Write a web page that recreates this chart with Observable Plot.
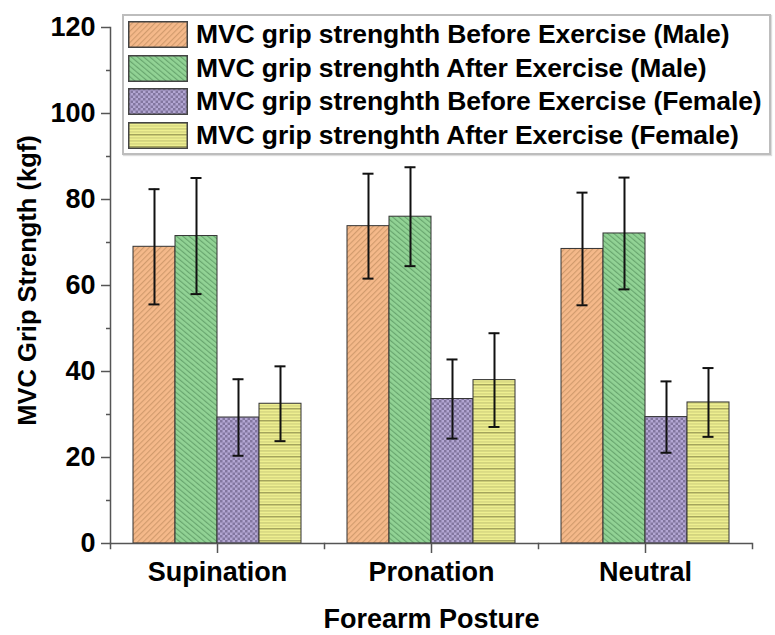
<!DOCTYPE html>
<html>
<head>
<meta charset="utf-8">
<script src="https://cdn.jsdelivr.net/npm/d3@7"></script>
<script src="https://cdn.jsdelivr.net/npm/@observablehq/plot@0.6"></script>
<style>
  html, body { margin: 0; padding: 0; background: #fff; }
  body { font-family: "Liberation Sans", Arial, sans-serif; }
  #wrap { position: relative; width: 775px; height: 635px; }
  #legend {
    position: absolute; left: 122px; top: 14px; width: 645px; height: 135px;
    padding-top: 2px; box-sizing: content-box;
    border: 2px solid #bdbdbd; background: #fff;
    box-shadow: 1px 1px 1px #ddd;
  }
  .row { display: flex; align-items: center; height: 33.5px; }
  .row svg { margin-left: 4px; margin-right: 8px; flex: none; }
  .row span { font-weight: bold; font-size: 26.5px; color: #000; white-space: nowrap; letter-spacing: -0.1px; }
</style>
</head>
<body>
<svg width="0" height="0" style="position:absolute">
  <defs>
    <pattern id="p0" patternUnits="userSpaceOnUse" width="4" height="4" patternTransform="rotate(45)">
      <rect width="4" height="4" fill="#f5b98a"/>
      <line x1="0.6" y1="0" x2="0.6" y2="4" stroke="#d09a6c" stroke-width="1.1"/>
    </pattern>
    <pattern id="p1" patternUnits="userSpaceOnUse" width="4" height="4" patternTransform="rotate(-50)">
      <rect width="4" height="4" fill="#92d395"/>
      <line x1="0.6" y1="0" x2="0.6" y2="4" stroke="#66a36c" stroke-width="1.1"/>
    </pattern>
    <pattern id="p2" patternUnits="userSpaceOnUse" width="5" height="5">
      <rect width="5" height="5" fill="#b3a6d3"/>
      <rect x="0" y="0" width="2.5" height="2.5" fill="#82769f"/>
      <rect x="2.5" y="2.5" width="2.5" height="2.5" fill="#82769f"/>
    </pattern>
    <pattern id="p3" patternUnits="userSpaceOnUse" width="6" height="12">
      <rect width="6" height="12" fill="#eeef90"/>
      <rect x="0" y="0" width="6" height="1.5" fill="#a4a45c"/>
      <rect x="0" y="3.5" width="6" height="0.9" fill="#c8c878"/>
      <rect x="0" y="6.5" width="6" height="0.9" fill="#b9b96c"/>
      <rect x="0" y="9.5" width="6" height="0.9" fill="#c8c878"/>
    </pattern>
  </defs>
</svg>
<div id="wrap">
  <div id="chart"></div>
  <div id="legend"></div>
</div>
<script>
// ---- data ----
const postures = ["Supination", "Pronation", "Neutral"];
const series = [
  "MVC grip strenghth Before Exercise (Male)",
  "MVC grip strenghth After Exercise (Male)",
  "MVC grip strenghth Before Exercise (Female)",
  "MVC grip strenghth After Exercise (Female)"
];
const beforeMale = [69.0, 73.8, 68.5];
const beforeMaleSD = [13.4, 12.2, 13.1];
const afterMale = [71.5, 76.0, 72.1];
const afterMaleSD = [13.5, 11.5, 13.0];
const beforeFemale = [29.3, 33.6, 29.4];
const beforeFemaleSD = [8.9, 9.2, 8.3];
const afterFemale = [32.5, 38.0, 32.8];
const afterFemaleSD = [8.7, 10.9, 8.0];
const yTicks = [0, 20, 40, 60, 80, 100, 120];
const yMinorTicks = [10, 30, 50, 70, 90, 110];

const means = [beforeMale, afterMale, beforeFemale, afterFemale];
const sds = [beforeMaleSD, afterMaleSD, beforeFemaleSD, afterFemaleSD];
const patterns = ["url(#p0)", "url(#p1)", "url(#p2)", "url(#p3)"];

const rows = [];
postures.forEach((p, i) => {
  series.forEach((s, j) => {
    rows.push({posture: p, series: s, mean: means[j][i], sd: sds[j][i]});
  });
});

const font = "Liberation Sans, Arial, sans-serif";
const axisColor = "#555";

const chart = Plot.plot({
  width: 775,
  height: 635,
  marginTop: 27,
  marginBottom: 92,
  marginLeft: 110,
  marginRight: 23,
  style: {fontFamily: font, fontWeight: "bold", color: "#000", background: "transparent"},
  fx: {domain: postures, padding: 0, axis: null, label: null},
  x: {domain: series, paddingInner: 0, paddingOuter: 0.5, axis: null},
  y: {domain: [0, 120], axis: null},
  color: {domain: series, range: patterns},
  marks: [
    Plot.barY(rows, {fx: "posture", x: "series", y: "mean", fill: "series", stroke: "#333", strokeWidth: 1}),
    Plot.ruleX(rows, {fx: "posture", x: "series", y1: d => d.mean - d.sd, y2: d => d.mean + d.sd, stroke: "#111", strokeWidth: 2}),
    Plot.tickY(rows, {fx: "posture", x: "series", y: d => d.mean + d.sd, insetLeft: 15.5, insetRight: 15.5, stroke: "#111", strokeWidth: 2}),
    Plot.tickY(rows, {fx: "posture", x: "series", y: d => d.mean - d.sd, insetLeft: 15.5, insetRight: 15.5, stroke: "#111", strokeWidth: 2}),
    Plot.ruleY([0], {stroke: axisColor, strokeWidth: 1.5}),
    Plot.frame({anchor: "left", facetAnchor: "left", stroke: axisColor, strokeWidth: 1.5}),
    Plot.frame({anchor: "left", insetTop: 516, insetBottom: -5, stroke: axisColor, strokeWidth: 1.5}),
    Plot.frame({anchor: "right", facetAnchor: "right", insetTop: 516, insetBottom: -5, stroke: axisColor, strokeWidth: 1.5}),
    Plot.axisY({ticks: yTicks, tickSize: 9, tickPadding: 6, fontSize: 27, fontWeight: "bold", stroke: axisColor, strokeWidth: 1.5, label: null}),
    Plot.axisY({ticks: yMinorTicks, tickSize: 4, text: null, stroke: axisColor, strokeWidth: 1.5, label: null}),
    Plot.axisFx({anchor: "bottom", tickSize: 10, tickPadding: 8, fontSize: 27, fontWeight: "bold", stroke: axisColor, strokeWidth: 1.5, label: null}),
    Plot.text(["Forearm Posture"], {facet: "super", frameAnchor: "bottom", dy: 84, fontSize: 27, fontWeight: "bold", fill: "#000"}),
    Plot.text(["MVC Grip Strength (kgf)"], {facetAnchor: "left", frameAnchor: "left", textAnchor: "middle", rotate: -90, dx: -83, dy: -5, fontSize: 25.5, fontWeight: "bold", fill: "#000"})
  ]
});
document.getElementById("chart").appendChild(chart);

// legend
const legend = d3.select("#legend");
series.forEach((s, j) => {
  const row = legend.append("div").attr("class", "row");
  const sw = row.append("svg").attr("width", 60).attr("height", 27);
  sw.append("rect").attr("x", 0.75).attr("y", 0.75).attr("width", 58.5).attr("height", 25.5)
    .attr("fill", patterns[j]).attr("stroke", "#444").attr("stroke-width", 1.5);
  row.append("span").text(s);
});
</script>
</body>
</html>
